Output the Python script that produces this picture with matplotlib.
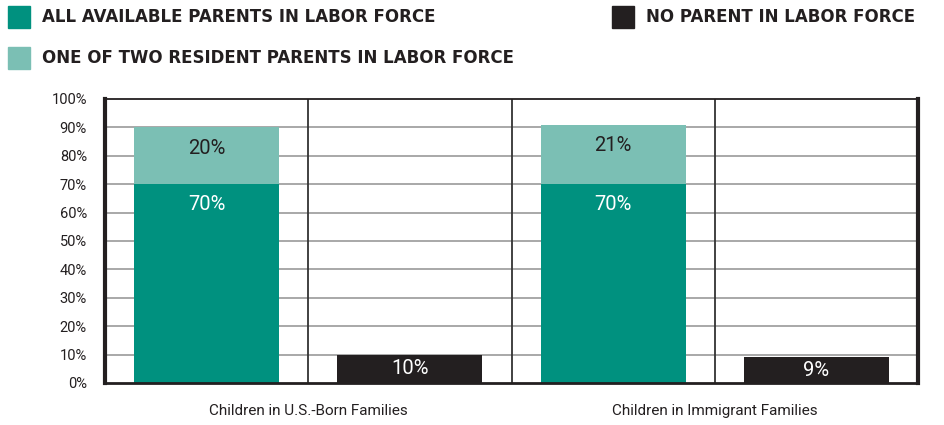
import matplotlib
matplotlib.use("Agg")
import matplotlib.pyplot as plt
import numpy as np

# data
groups = ["Children in U.S.-Born Families", "Children in Immigrant Families"]
all_parents = [70, 70]
one_of_two = [20, 21]
no_parent = [10, 9]
yticks = [0, 10, 20, 30, 40, 50, 60, 70, 80, 90, 100]

teal = "#00917f"
light_teal = "#7bbfb4"
black = "#231f20"
cond = ["Roboto", "DejaVu Sans"]

fig = plt.figure(figsize=(9.45, 4.25), dpi=100)
ax = fig.add_axes([105 / 945, 1 - 383 / 425, (918 - 105) / 945, (383 - 99) / 425])

n = len(groups)
stack_x = np.arange(n) * 2
black_x = stack_x + 1
w = 0.714

ax.bar(stack_x, all_parents, w, color=teal, zorder=3)
ax.bar(stack_x, one_of_two, w, bottom=all_parents, color=light_teal, zorder=3)
ax.bar(black_x, no_parent, w, color=black, zorder=3)


def label(x, bottom, h, color):
    y = bottom + h - min(7.3, h / 2)
    ax.text(x, y, f"{h}%", ha="center", va="center", color=color,
            fontsize=14.5, family=cond, zorder=4)


for i in range(n):
    label(stack_x[i], 0, all_parents[i], "white")
    label(stack_x[i], all_parents[i], one_of_two[i], "#231f20")
    label(black_x[i], 0, no_parent[i], "white")

ax.set_xlim(-0.5, 2 * n - 0.5)
ax.set_ylim(0, 100)
ax.set_yticks(yticks)
ax.set_yticklabels([f"{v}%" for v in yticks], family=cond, fontsize=10.5, color="#231f20")
ax.set_xticks(stack_x + 0.5)
ax.set_xticklabels(groups, family=cond, fontsize=11, color="#231f20")
ax.tick_params(axis="both", length=0)
ax.tick_params(axis="y", pad=13)
ax.tick_params(axis="x", pad=15)

for v in yticks[1:-1]:
    ax.axhline(v, color="#9a9a9a", lw=1.2, zorder=1)
for xv in np.arange(0.5, 2 * n - 1, 1):
    ax.axvline(xv, color="#333333", lw=1.3, zorder=2)

for side, lw in [("left", 3), ("right", 3), ("bottom", 2), ("top", 1.3)]:
    ax.spines[side].set_linewidth(lw)
    ax.spines[side].set_color("#231f20")
    ax.spines[side].set_zorder(5)

# legend drawn as figure patches and text
leg_font = dict(family=["DejaVu Sans"], fontsize=12, fontweight="bold",
                color="#231f20", va="center", ha="left")
entries = [
    (8, 17, teal, "ALL AVAILABLE PARENTS IN LABOR FORCE"),
    (8, 58, light_teal, "ONE OF TWO RESIDENT PARENTS IN LABOR FORCE"),
    (612, 17, black, "NO PARENT IN LABOR FORCE"),
]
for px, py, c, txt in entries:
    fig.patches.append(plt.Rectangle((px / 945, 1 - (py + 11) / 425), 22 / 945, 22 / 425,
                                     transform=fig.transFigure, color=c))
    fig.text((px + 34) / 945, 1 - py / 425, txt, **leg_font)

fig.savefig("out.png", dpi=100)
